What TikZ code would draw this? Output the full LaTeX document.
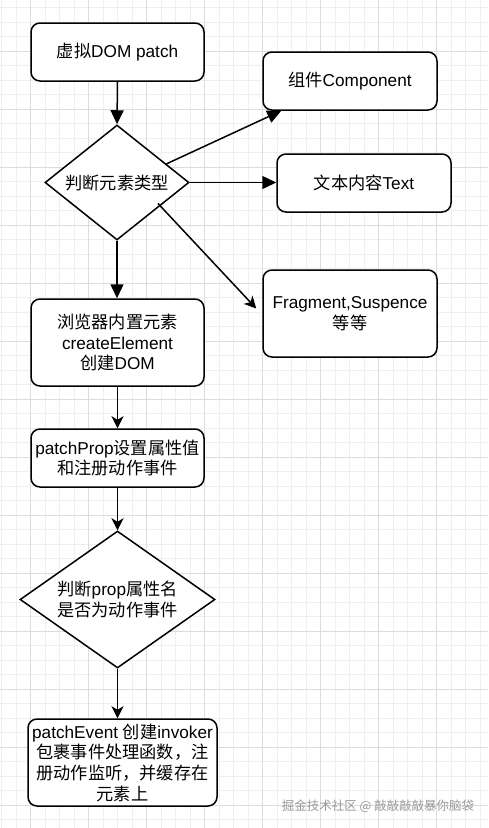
\documentclass[tikz,border=0pt]{standalone}
\usepackage{fontspec}
\setmainfont{Liberation Sans}
\newfontfamily\cjk{Noto Sans CJK SC}
\usetikzlibrary{arrows.meta,shapes.geometric,calc}
\definecolor{gridminor}{HTML}{EFEFEF}
\definecolor{gridmajor}{HTML}{DCDCDC}
\definecolor{wmgray}{HTML}{9A9A9A}
\begin{document}
\begin{tikzpicture}[x=1pt,y=-1pt,
  every node/.style={font=\fontsize{17.2}{20.7}\selectfont},
  box/.style={draw, line width=1.5pt, rounded corners=9pt, fill=white, align=center, inner sep=0pt},
  dia/.style={draw, line width=1.5pt, diamond, fill=white, align=center, inner sep=0pt},
  conn/.style={line width=1.5pt},
  blk/.style={conn, -{Triangle[length=14pt,width=13pt]}},
  cls/.style={conn, -{Stealth[length=12pt,width=12pt,inset=3.5pt]}}
]
\useasboundingbox (0,0) rectangle (488,828);
\fill[white] (0,0) rectangle (488,828);
% grid
\foreach \x in {1.7,16.2,...,488} \draw[gridminor, line width=0.8pt] (\x,0) -- (\x,828);
\foreach \y in {7.8,22.3,...,828} \draw[gridminor, line width=0.8pt] (0,\y) -- (488,\y);
\foreach \x in {30.7,88.7,...,488} \draw[gridmajor, line width=0.8pt] (\x,0) -- (\x,828);
\foreach \y in {51.3,109.3,...,828} \draw[gridmajor, line width=0.8pt] (0,\y) -- (488,\y);

% nodes
\node[box, minimum width=173pt, minimum height=58pt] (b1) at (117.5,52) {{\cjk 虚拟}DOM patch};
\node[box, minimum width=174pt, minimum height=58pt] (comp) at (350,81) {{\cjk 组件}Component};
\node[box, minimum width=174pt, minimum height=58pt] (txt) at (364,183) {{\cjk 文本内容}Text};
\node[box, minimum width=174pt, minimum height=87pt] (frag) at (350,313.5) {Fragment,Suspence\\{\cjk 等等}};
\node[dia, aspect=1.25, minimum width=144pt, minimum height=115pt] (d1) at (117,182.5) {\cjk 判断元素类型};
\node[box, minimum width=173pt, minimum height=87pt] (br) at (117.5,342.5) {{\cjk 浏览器内置元素}\\createElement\\{\cjk 创建}DOM};
\node[box, minimum width=173pt, minimum height=58pt] (prop) at (117.5,458) {patchProp{\cjk 设置属性值}\\{\cjk 和注册动作事件}};
\node[dia, aspect=1.42, minimum width=195pt, minimum height=137pt] (d2) at (117.5,599.5) {{\cjk 判断}prop{\cjk 属性名}\\{\cjk 是否为动作事件}};
\node[box, minimum width=189pt, minimum height=87pt] (last) at (122.5,762.5) {patchEvent {\cjk 创建}invoker\\{\cjk 包裹事件处理函数，注}\\{\cjk 册动作监听，并缓存在}\\{\cjk 元素上}};
\node[text=wmgray, font=\cjk\fontsize{12.5}{15}\selectfont, inner sep=0pt] (wm) at (378,806) {掘金技术社区 @ 敲敲敲敲暴你脑袋};

% connectors
\coordinate (c1s) at ($(d1.north)!0.68!(d1.east)$);
\coordinate (c1e) at ($(comp.south west)+(19,0)$);
\coordinate (c3s) at ($(d1.center)+(41,21)$);
\coordinate (c3e) at ($(frag.west)+(-6,-5)$);
\draw[blk] (b1.south) -- (d1.north);
\draw[blk] (c1s) -- (c1e);
\draw[blk] (d1.east) -- (d1.east -| txt.west);
\draw[cls] (c3s) -- (c3e);
\draw[blk] (d1.south) -- (d1.south |- br.north);
\draw[cls] (br.south) -- (br.south |- prop.north);
\draw[cls] (prop.south) -- (prop.south |- d2.north);
\draw[cls] (d2.south) -- (d2.south |- last.north);
\end{tikzpicture}
\end{document}
